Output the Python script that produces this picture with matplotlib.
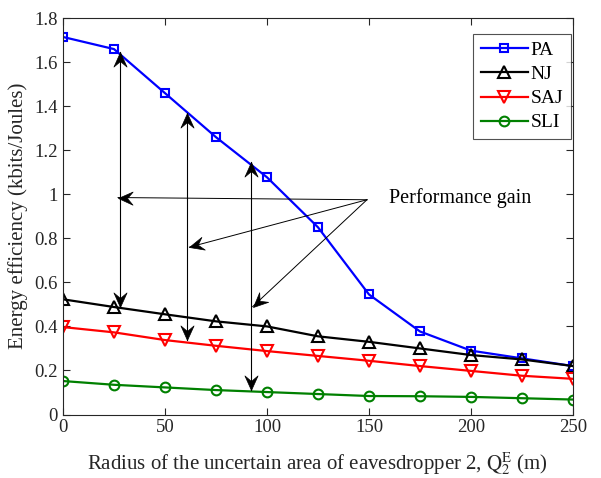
import matplotlib
matplotlib.use("Agg")
import numpy as np
import matplotlib.pyplot as plt
from matplotlib.path import Path
from matplotlib.markers import MarkerStyle
from matplotlib.transforms import Affine2D

plt.rcParams['font.family'] = ['Liberation Serif', 'DejaVu Serif']
plt.rcParams['mathtext.fontset'] = 'stix'

x = [0, 25, 50, 75, 100, 125, 150, 175, 200, 225, 250]
pa = [1.714, 1.659, 1.459, 1.259, 1.077, 0.85, 0.545, 0.377, 0.29, 0.255, 0.22]
nj = [0.523, 0.488, 0.455, 0.423, 0.40, 0.355, 0.33, 0.30, 0.27, 0.25, 0.22]
saj = [0.397, 0.373, 0.338, 0.312, 0.288, 0.266, 0.244, 0.22, 0.198, 0.176, 0.162]
sli = [0.152, 0.135, 0.123, 0.111, 0.102, 0.093, 0.084, 0.083, 0.080, 0.074, 0.068]

# vertical "gain" arrows: (x, top, bottom)
gain_x = [28, 61, 92]
gain_top = [1.645, 1.37, 1.145]
gain_bot = [0.49, 0.34, 0.11]
# pointer arrows from the text
ptr_x = [27, 62, 93]
ptr_y = [0.985, 0.76, 0.49]
ptr_start = (149, 0.975)
label_pos = (160, 0.984)

fig = plt.figure(figsize=(6.01, 4.78), dpi=100)
ax = fig.add_axes([0.1048, 0.1328, 0.8486, 0.8295])
ax.set_xlim(0, 250)
ax.set_ylim(0, 1.8)

axc = '#262626'
lw = 1.6
ax.plot(x, pa, color='#0000ff', marker='s', mfc='none', ms=5.5, mew=1.5, lw=lw, label='PA')
ax.plot(x, nj, color='black', marker='^', mfc='none', ms=8.5, mew=1.5, lw=lw, label='NJ')
ax.plot(x, saj, color='#ff0000', marker='v', mfc='none', ms=8.5, mew=1.5, lw=lw, label='SAJ')
ax.plot(x, sli, color='#008000', marker='o', mfc='none', ms=7, mew=1.5, lw=lw, label='SLI')

head_path = Path([(0, 0), (-1, 0.45), (-0.62, 0), (-1, -0.45), (0, 0)],
                 [Path.MOVETO, Path.LINETO, Path.LINETO, Path.LINETO, Path.CLOSEPOLY])


def head(xy_from, xy_to):
    p0 = ax.transData.transform(xy_from)
    p1 = ax.transData.transform(xy_to)
    ang = np.degrees(np.arctan2(p1[1] - p0[1], p1[0] - p0[0]))
    m = MarkerStyle(head_path, transform=Affine2D().rotate_deg(ang))
    ax.plot([xy_to[0]], [xy_to[1]], marker=m, ms=21, color='black', mew=0.5, zorder=5, ls='none')


for gx, gt, gb in zip(gain_x, gain_top, gain_bot):
    ax.plot([gx, gx], [gb, gt], color='black', lw=0.8, zorder=4)
    head((gx, gb), (gx, gt))
    head((gx, gt), (gx, gb))

for px, py in zip(ptr_x, ptr_y):
    ax.plot([ptr_start[0], px], [ptr_start[1], py], color='black', lw=0.7, zorder=4)
    head(ptr_start, (px, py))

ax.text(label_pos[0], label_pos[1], 'Performance gain', fontsize=14.5, va='center', ha='left', color='black')

ax.set_xticks([0, 50, 100, 150, 200, 250])
ax.set_yticks([0, 0.2, 0.4, 0.6, 0.8, 1, 1.2, 1.4, 1.6, 1.8])
ax.set_yticklabels(['0', '0.2', '0.4', '0.6', '0.8', '1', '1.2', '1.4', '1.6', '1.8'])
ax.tick_params(direction='in', top=True, right=True, labelsize=13.5, colors=axc, length=5, width=0.8)
for s in ax.spines.values():
    s.set_color(axc)
    s.set_linewidth(0.8)

ax.set_xlabel(r'Radius of the uncertain area of eavesdropper 2, $\mathrm{Q}_2^{\mathrm{E}}$ (m)',
              fontsize=15, color=axc, labelpad=10)
ax.set_ylabel('Energy efficiency (kbits/Joules)', fontsize=15, color=axc, labelpad=5)

leg = ax.legend(loc='upper right', bbox_to_anchor=(0.996, 0.96), fontsize=14, frameon=True,
                fancybox=False, edgecolor=axc, borderaxespad=0, borderpad=0.4,
                handlelength=2.4, handletextpad=0.15, labelspacing=0.33)
leg.get_frame().set_linewidth(0.8)

fig.savefig('out.png', dpi=100)
